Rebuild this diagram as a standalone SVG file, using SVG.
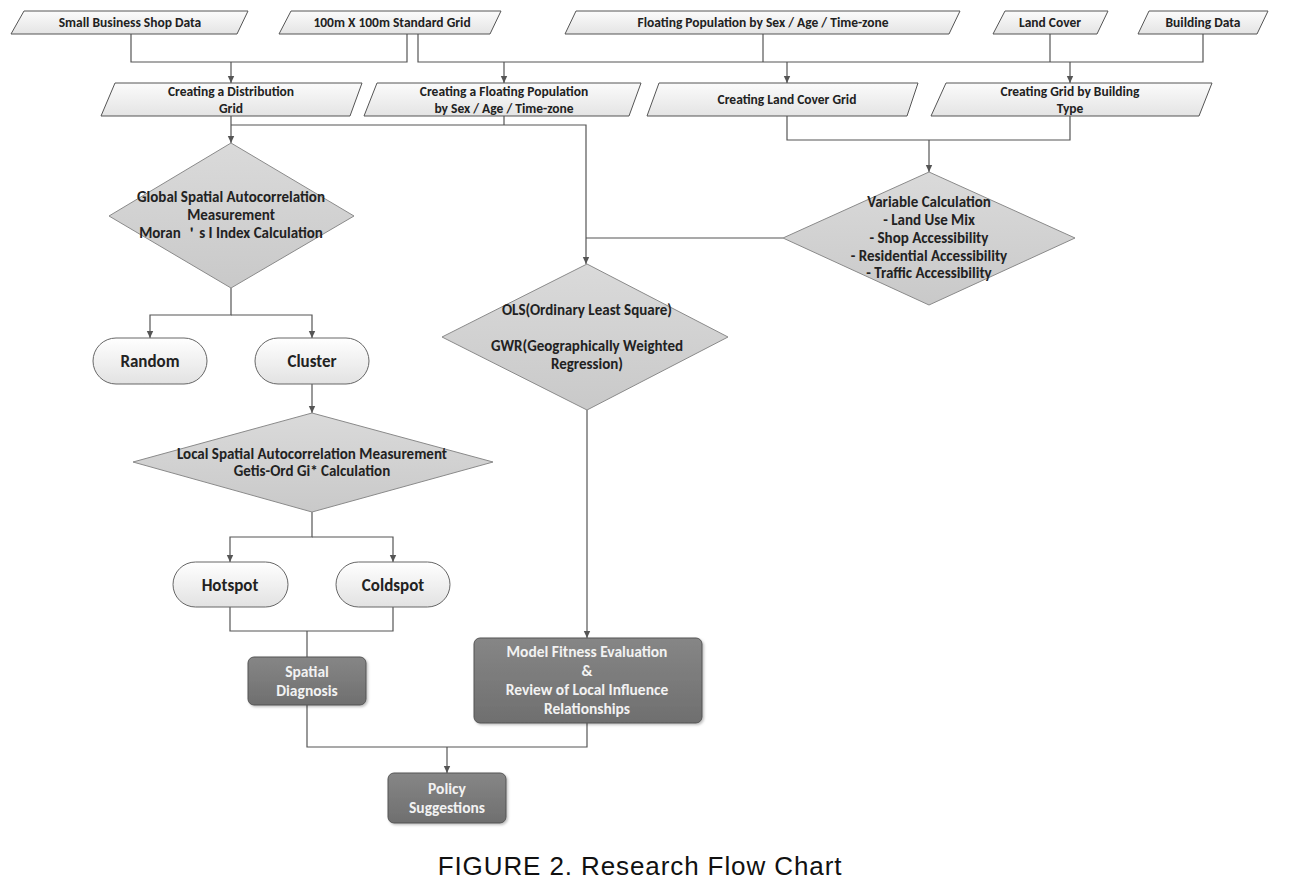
<svg xmlns="http://www.w3.org/2000/svg" width="1289" height="884" viewBox="0 0 1289 884">
<defs>
<linearGradient id="gPara" x1="0" y1="0" x2="0" y2="1"><stop offset="0" stop-color="#fbfbfb"/><stop offset="1" stop-color="#e4e4e4"/></linearGradient>
<linearGradient id="gDia" x1="0" y1="0" x2="0" y2="1"><stop offset="0" stop-color="#dadada"/><stop offset="1" stop-color="#c9c9c9"/></linearGradient>
<linearGradient id="gPill" x1="0" y1="0" x2="0" y2="1"><stop offset="0" stop-color="#ffffff"/><stop offset="1" stop-color="#e2e2e2"/></linearGradient>
<linearGradient id="gDark" x1="0" y1="0" x2="0" y2="1"><stop offset="0" stop-color="#868686"/><stop offset="1" stop-color="#6f6f6f"/></linearGradient>
<marker id="arr" markerWidth="8" markerHeight="8" refX="7" refY="4" orient="auto" markerUnits="userSpaceOnUse"><path d="M0,0.8 L7,4 L0,7.2 Z" fill="#555"/></marker>
<filter id="sh" x="-10%" y="-10%" width="125%" height="130%"><feDropShadow dx="1.5" dy="1.5" stdDeviation="1" flood-color="#000" flood-opacity="0.25"/></filter>
<style>
.para{fill:url(#gPara);stroke:#555;stroke-width:1}
.dia{fill:url(#gDia);stroke:#8a8a8a;stroke-width:1}
.pill{fill:url(#gPill);stroke:#666;stroke-width:1}
.dark{fill:url(#gDark);stroke:#555;stroke-width:1}
.t{font-family:Carlito,Lato,"Liberation Sans",sans-serif;font-weight:bold;fill:#222;text-anchor:middle;dominant-baseline:central}
.s12{font-size:13.5px}
.s13{font-size:15px}
.sd{font-size:15.5px}
.s15{font-size:17px}
.w{fill:#f2f2f2}
.c{fill:none;stroke:#555;stroke-width:1.2}
.a{marker-end:url(#arr)}
.cap{font-family:"Liberation Sans",Arial,sans-serif;font-size:26px;fill:#111;text-anchor:middle;letter-spacing:0.9px}
</style>
</defs>
<rect width="1289" height="884" fill="#fff"/>
<g id="connectors">
<path class="c" d="M131 34 V62 H407 V34"/>
<path class="c a" d="M231 62 V83"/>
<path class="c" d="M418 34 V62 H1203 V34"/>
<path class="c" d="M763 34 V62"/>
<path class="c" d="M1050 34 V62"/>
<path class="c a" d="M504 62 V83"/>
<path class="c a" d="M787 62 V83"/>
<path class="c a" d="M1070 62 V83"/>
<path class="c a" d="M231 116 V143"/>
<path class="c a" d="M231 125 H586 V264"/>
<path class="c" d="M504 116 V125"/>
<path class="c" d="M787 116 V140 H1070 V116"/>
<path class="c a" d="M929 140 V172"/>
<path class="c" d="M783 238 H586"/>
<path class="c a" d="M231 288 V315 H150 V338"/>
<path class="c a" d="M231 315 H312 V338"/>
<path class="c a" d="M312 384 V413"/>
<path class="c a" d="M312 512 V537 H230 V562"/>
<path class="c a" d="M312 537 H393 V562"/>
<path class="c" d="M230 607 V631 H393 V607"/>
<path class="c" d="M307 631 V657"/>
<path class="c a" d="M587 410 V638"/>
<path class="c" d="M307 705 V747 H587 V723"/>
<path class="c a" d="M447 747 V773"/>
</g>
<g id="n-shop"><polygon class="para" points="24,11 248,11 237,34 11,34"/><text class="t s12" x="130" y="22.5">Small Business Shop Data</text></g>
<g id="n-grid100"><polygon class="para" points="291,11 501,11 490,34 279,34"/><text class="t s12" x="392" y="22.5">100m X 100m Standard Grid</text></g>
<g id="n-floatpop"><polygon class="para" points="576,11 960,11 949,34 565,34"/><text class="t s12" x="763" y="22.5">Floating Population by Sex / Age / Time-zone</text></g>
<g id="n-landcover"><polygon class="para" points="1005,11 1108,11 1097,34 993,34"/><text class="t s12" x="1050" y="22.5">Land Cover</text></g>
<g id="n-building"><polygon class="para" points="1149,11 1268,11 1257,34 1138,34"/><text class="t s12" x="1203" y="22.5">Building Data</text></g>
<g id="n-distgrid"><polygon class="para" points="115,83 362,83 350,116 101,116"/><text class="t s12" x="231" y="91">Creating a Distribution</text><text class="t s12" x="231" y="108">Grid</text></g>
<g id="n-floatgrid"><polygon class="para" points="377,83 641,83 629,116 364,116"/><text class="t s12" x="504" y="91">Creating a Floating Population</text><text class="t s12" x="504" y="108">by Sex / Age / Time-zone</text></g>
<g id="n-landgrid"><polygon class="para" points="659,83 918,83 907,116 647,116"/><text class="t s12" x="787" y="99">Creating Land Cover Grid</text></g>
<g id="n-buildgrid"><polygon class="para" points="946,83 1212,83 1199,116 931,116"/><text class="t s12" x="1070" y="91">Creating Grid by Building</text><text class="t s12" x="1070" y="108">Type</text></g>
<g id="n-global"><polygon class="dia" points="231,143 354,216 231,288 109,216"/><text class="t s13" x="231" y="197">Global Spatial Autocorrelation</text><text class="t s13" x="231" y="215">Measurement</text><text class="t s13" x="231" y="233">Moran ＇s I Index Calculation</text></g>
<g id="n-variable"><polygon class="dia" points="929,172 1075,238 929,305 783,238"/><text class="t s13" x="929" y="202">Variable Calculation</text><text class="t s13" x="929" y="220">- Land Use Mix</text><text class="t s13" x="929" y="238">- Shop Accessibility</text><text class="t s13" x="929" y="256">- Residential Accessibility</text><text class="t s13" x="929" y="273">- Traffic Accessibility</text></g>
<g id="n-ols"><polygon class="dia" points="587,264 728,337 587,410 442,337"/><text class="t s13" x="587" y="310">OLS(Ordinary Least Square)</text><text class="t s13" x="587" y="346">GWR(Geographically Weighted</text><text class="t s13" x="587" y="364">Regression)</text></g>
<g id="n-random"><rect class="pill" x="93" y="338" width="114" height="46" rx="23"/><text class="t s15" x="150" y="361">Random</text></g>
<g id="n-cluster"><rect class="pill" x="255" y="338" width="114" height="46" rx="23"/><text class="t s15" x="312" y="361">Cluster</text></g>
<g id="n-local"><polygon class="dia" points="312,413 493,462 312,512 133,462"/><text class="t s13" x="312" y="454">Local Spatial Autocorrelation Measurement</text><text class="t s13" x="312" y="471">Getis-Ord Gi* Calculation</text></g>
<g id="n-hotspot"><rect class="pill" x="173" y="562" width="115" height="45" rx="22.5"/><text class="t s15" x="230" y="585">Hotspot</text></g>
<g id="n-coldspot"><rect class="pill" x="336" y="562" width="114" height="45" rx="22.5"/><text class="t s15" x="393" y="585">Coldspot</text></g>
<g id="n-spatial"><rect class="dark" x="248" y="657" width="118" height="48" rx="6" filter="url(#sh)"/><text class="t sd w" x="307" y="671">Spatial</text><text class="t sd w" x="307" y="690">Diagnosis</text></g>
<g id="n-model"><rect class="dark" x="474" y="638" width="228" height="85" rx="6" filter="url(#sh)"/><text class="t sd w" x="587" y="651">Model Fitness Evaluation</text><text class="t sd w" x="587" y="670">&amp;</text><text class="t sd w" x="587" y="689">Review of Local Influence</text><text class="t sd w" x="587" y="708">Relationships</text></g>
<g id="n-policy"><rect class="dark" x="388" y="773" width="118" height="50" rx="6" filter="url(#sh)"/><text class="t sd w" x="447" y="788">Policy</text><text class="t sd w" x="447" y="807">Suggestions</text></g>
<text class="cap" x="640" y="875">FIGURE 2. Research Flow Chart</text>
</svg>
